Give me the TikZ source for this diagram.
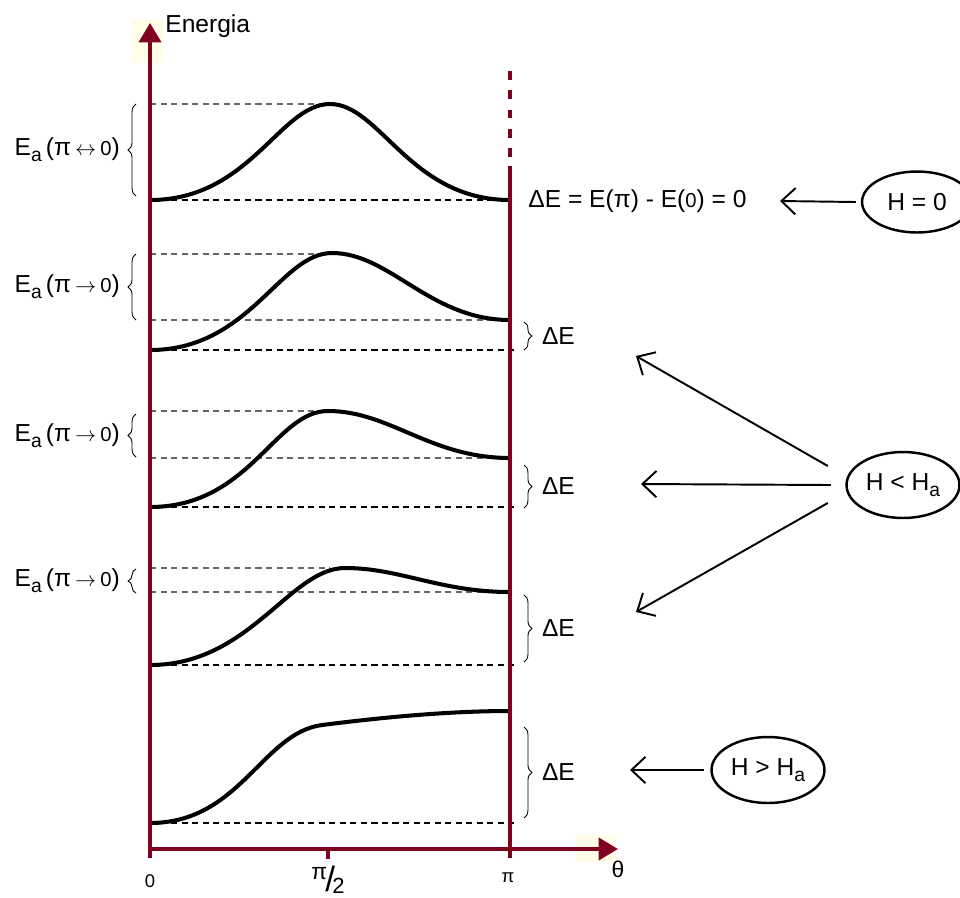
\documentclass[tikz,border=0pt]{standalone}
\usepackage{fontspec}
\setmainfont{Liberation Sans}
\usetikzlibrary{arrows.meta,decorations.pathreplacing,shapes.geometric,positioning}

\definecolor{achsrot}{RGB}{128,0,32}
\definecolor{creme}{RGB}{255,253,232}
\newcommand{\idx}[1]{\raisebox{-0.45ex}{\fontsize{11}{11}\selectfont #1}}
\newcommand{\nul}{{\fontsize{11.5}{12}\selectfont 0}}
\newcommand{\pfeil}[1]{\,{\fontsize{12}{12}\selectfont$#1$}\,}

\tikzset{
  achse/.style={line width=2.2pt, color=achsrot},
  kurve/.style={line width=2.3pt, line cap=round},
  hilfe/.style={black!60, line width=0.6pt, dash pattern=on 3.5pt off 2.5pt},
  basis/.style={black, line width=0.75pt, dash pattern=on 3.5pt off 2.5pt},
  klammer/.style={decorate, decoration={brace, amplitude=4.5pt}, line width=0.5pt},
  feld/.style={line width=1.1pt, -{Straight Barb[length=8pt,width=15pt]}},
  zustand/.style={ellipse, draw, line width=1.4pt, inner sep=0pt, font=\fontsize{14}{16}\selectfont},
  txt/.style={inner sep=0pt, font=\fontsize{14}{16}\selectfont},
  skala/.style={inner sep=0pt, font=\fontsize{10.5}{12}\selectfont},
}

\begin{document}
\begin{tikzpicture}[x=0.02cm, y=-0.02cm]
\useasboundingbox (0,0) rectangle (960,897);
\fill[creme] (132,20) rectangle (163,63);
\fill[creme] (575,835) rectangle (616,862);

% Hilfslinien
\draw[hilfe] (150,104) -- (330,104);
\draw[basis] (150,200) -- (510,200);
\foreach \o/\m/\u in {254/320/350, 411/458/507, 568/592/665} {
  \draw[hilfe] (150,\o) -- (330,\o);
  \draw[hilfe] (150,\m) -- (510,\m);
  \draw[basis] (150,\u) -- (514,\u);
}
\draw[basis] (150,823) -- (514,823);

% Energieverlaeufe
\draw[kurve] (150,200) .. controls (250,200) and (280,104) .. (330,104)
  .. controls (380,104) and (410,200) .. (510,200);
\draw[kurve] (150,350) .. controls (250,350) and (280,253) .. (332,253)
  .. controls (390,253) and (430,320) .. (510,320);
\draw[kurve] (150,507) .. controls (250,507) and (275,411) .. (328,411)
  .. controls (390,411) and (430,458) .. (510,458);
\draw[kurve] (150,665) .. controls (250,665) and (290,568) .. (345,568)
  .. controls (400,568) and (440,592) .. (510,592);
\draw[kurve] (150,823) .. controls (240,823) and (262,733) .. (322,725)
  .. controls (385,717) and (450,711) .. (510,711);

% Achsen
\coordinate (ursprung) at (150,849);
\coordinate (ytop) at (150,23);
\coordinate (xend) at (618,849);
\draw[achse, -{Triangle[length=11pt,width=12.5pt]}] (150,858) -- (ytop);
\draw[achse, -{Triangle[length=11pt,width=12.5pt]}] (ursprung) -- (xend);
\draw[achse] (510,858) -- (510,166);
\draw[achse, dash pattern=on 5pt off 6pt] (510,157) -- (510,65);
\draw[achse] (328,849) -- (328,859);

\node[txt, anchor=base west] (energie) at (165,32) {Energia};
\node[skala] (null) at (150,881) {0};
\node[skala] (halb) at (328,880)
  {{\fontsize{13}{13}\selectfont\raisebox{0.45ex}{π}}\kern-1pt{\fontsize{20}{20}\selectfont\raisebox{-0.35ex}{/}}\kern-1.5pt{\fontsize{12.5}{13}\selectfont\raisebox{-0.75ex}{2}}};
\node[skala] (pi) at (508,878) {π};
\node[txt, font=\fontsize{13}{14}\selectfont] (theta) at (618,869) {θ};

% Aktivierungsenergien
\draw[klammer] (136,196) -- (136,104) node[txt, midway, left=9pt] (ea1) {E\idx{a}\,(π\pfeil{\leftrightarrow}\nul)};
\foreach \a/\b/\i in {254/320/2, 414/457/3, 569/593/4}
  \draw[klammer] (136,\b) -- (136,\a) node[txt, midway, left=9pt] (ea\i) {E\idx{a}\,(π\pfeil{\rightarrow}\nul)};

% Energiedifferenzen
\node[txt, anchor=west] (dnull) at (528,201) {ΔE = E(π) - E(\nul) = 0};
\foreach \a/\b/\i in {322/350/2, 465/508/3, 595/662/4, 727/818/5}
  \draw[klammer] (524,\a) -- (524,\b) node[txt, midway, right=10pt] (de\i) {ΔE};

% Felder
\node[zustand, minimum width=2.2cm, minimum height=1.22cm] (hnull) at (917,202) {H = 0};
\node[zustand, minimum width=2.26cm, minimum height=1.32cm] (hlow) at (903,485) {H < H\idx{a}};
\node[zustand, minimum width=2.26cm, minimum height=1.32cm] (hhigh) at (768,770) {H > H\idx{a}};

\coordinate (z1) at (780,201);
\coordinate (z2) at (636,356);
\coordinate (z3) at (641,484);
\coordinate (z4) at (636,612);
\coordinate (z5) at (630,770);
\draw[feld] ([xshift=-0.1cm]hnull.west) -- (z1);
\draw[feld] ([xshift=-0.35cm,yshift=0.38cm]hlow.west) -- (z2);
\draw[feld] ([xshift=-0.29cm]hlow.west) -- (z3);
\draw[feld] ([xshift=-0.35cm,yshift=-0.36cm]hlow.west) -- (z4);
\draw[feld] ([xshift=-0.13cm]hhigh.west) -- (z5);
\end{tikzpicture}
\end{document}
